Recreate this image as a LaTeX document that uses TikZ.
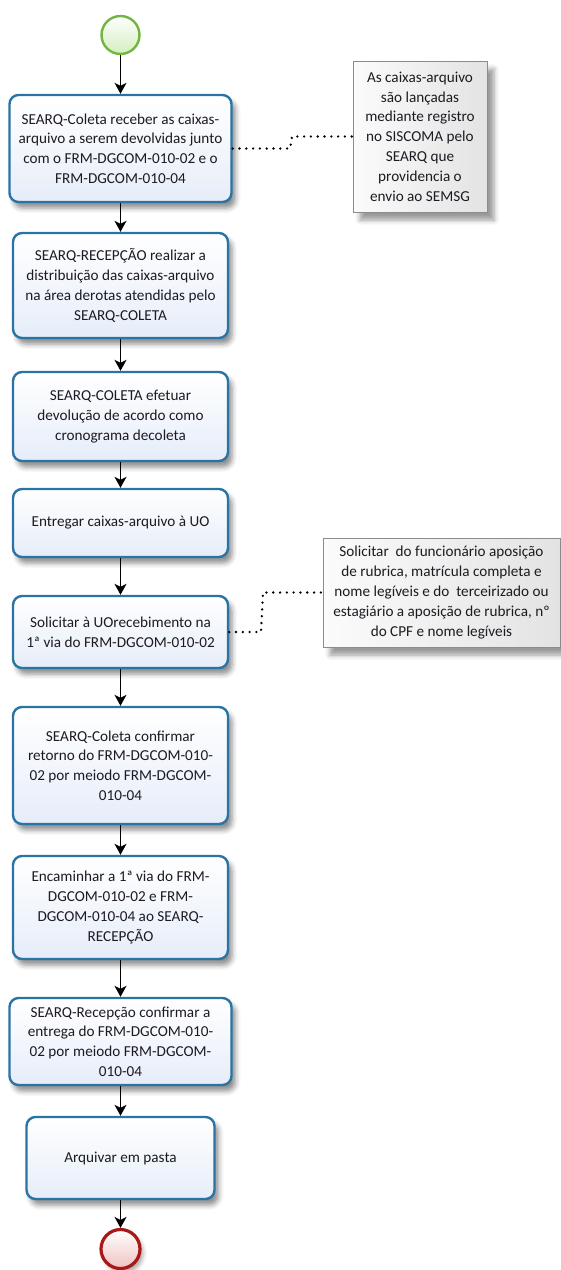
\documentclass[tikz,border=0pt]{standalone}
\usepackage{fontspec}
\setmainfont{Carlito}
\usetikzlibrary{arrows.meta,shadows.blur}

\definecolor{taskline}{HTML}{2A74A4}
\definecolor{taskfill}{HTML}{E6EDF9}
\definecolor{textcol}{HTML}{1E1A22}
\definecolor{startline}{HTML}{72B640}
\definecolor{startfill}{HTML}{D4EEBE}
\definecolor{endline}{HTML}{A81818}
\definecolor{endfill}{HTML}{F0C2C2}
\definecolor{annline}{HTML}{8C8C8C}

\begin{document}
\begin{tikzpicture}[x=1pt,y=-1pt,
  txt/.style={font=\fontsize{15.2}{19.8}\selectfont, text=textcol, align=center},
  task/.style={txt, draw=taskline, line width=2.4pt, rounded corners=9pt,
    top color=white, bottom color=taskfill, inner sep=0pt,
    minimum width=215pt,
    blur shadow={shadow xshift=4pt, shadow yshift=-6pt, shadow blur radius=5pt,
      shadow opacity=45}},
  note/.style={txt, draw=annline, line width=0.9pt, inner sep=0pt,
    left color=gray!3, right color=gray!22,
    blur shadow={shadow xshift=7pt, shadow yshift=-8pt, shadow blur radius=5pt,
      shadow opacity=40}},
  evstart/.style={circle, draw=startline, line width=2.4pt, minimum size=38pt,
    inner sep=0pt, top color=white, bottom color=startfill},
  evend/.style={circle, draw=endline, line width=3.2pt, minimum size=39pt,
    inner sep=0pt, top color=white, bottom color=endfill,
    blur shadow={shadow xshift=3pt, shadow yshift=-4pt, shadow blur radius=4pt,
      shadow opacity=35}},
  flow/.style={line width=1.4pt, -{Stealth[length=11pt,width=12pt,inset=3pt]}},
  assoc/.style={line width=2.6pt, line cap=round, dash pattern=on 0pt off 6.8pt},
]
\useasboundingbox (0,0) rectangle (560,1270);

% events
\node[evstart] (s) at (120.5,35) {};
\node[evend] (e) at (120.5,1249) {};

% tasks
\node[task, minimum width=222pt, minimum height=107pt] (t1) at (120.5,148.5)
  {SEARQ-Coleta receber as caixas-\\arquivo a serem devolvidas junto\\com o FRM-DGCOM-010-02 e o\\FRM-DGCOM-010-04};
\node[task, minimum height=105pt] (t2) at (120.5,285.5)
  {SEARQ-RECEPÇÃO realizar a\\distribuição das caixas-arquivo\\na área derotas atendidas pelo\\SEARQ-COLETA};
\node[task, minimum height=89pt] (t3) at (120.5,416.5)
  {SEARQ-COLETA efetuar\\devolução de acordo como\\cronograma decoleta};
\node[task, minimum height=68pt] (t4) at (120.5,523)
  {Entregar caixas-arquivo à UO};
\node[task, minimum height=72pt] (t5) at (120.5,632)
  {Solicitar à UOrecebimento na\\1ª via do FRM-DGCOM-010-02};
\node[task, minimum height=117pt] (t6) at (120.5,765.5)
  {SEARQ-Coleta confirmar\\retorno do FRM-DGCOM-010-\\02 por meiodo FRM-DGCOM-\\010-04};
\node[task, minimum height=103pt] (t7) at (120.5,907.5)
  {Encaminhar a 1ª via do FRM-\\DGCOM-010-02 e FRM-\\DGCOM-010-04 ao SEARQ-\\RECEPÇÃO};
\node[task, minimum width=222pt, minimum height=87pt] (t8) at (120.5,1041.5)
  {SEARQ-Recepção confirmar a\\entrega do FRM-DGCOM-010-\\02 por meiodo FRM-DGCOM-\\010-04};
\node[task, minimum width=188pt, minimum height=82pt] (t9) at (120.5,1158)
  {Arquivar em pasta};

% annotations
\node[note, minimum width=134pt, minimum height=151pt] (n1) at (420,136.5)
  {As caixas-arquivo\\são lançadas\\mediante registro\\no SISCOMA pelo\\SEARQ que\\providencia o\\envio ao SEMSG};
\node[note, minimum width=237pt, minimum height=109pt] (n2) at (441.5,592.5)
  {Solicitar \ do funcionário aposição\\de rubrica, matrícula completa e\\nome legíveis e do \ terceirizado ou\\estagiário a aposição de rubrica, nº\\do CPF e nome legíveis};

% sequence flows
\draw[flow] (s) -- (t1);
\draw[flow] (t1) -- (t2);
\draw[flow] (t2) -- (t3);
\draw[flow] (t3) -- (t4);
\draw[flow] (t4) -- (t5);
\draw[flow] (t5) -- (t6);
\draw[flow] (t6) -- (t7);
\draw[flow] (t7) -- (t8);
\draw[flow] (t8) -- (t9);
\draw[flow] (t9) -- (e);

% associations
\coordinate (a1) at (290,148.5);
\coordinate (a2) at (292,136.5);
\draw[assoc] (t1.east) -- (a1) -- (a2) -- (n1.west);
\coordinate (b1) at (261,632);
\coordinate (b2) at (263,592.5);
\draw[assoc] (t5.east) -- (b1) -- (b2) -- (n2.west);
\end{tikzpicture}
\end{document}
